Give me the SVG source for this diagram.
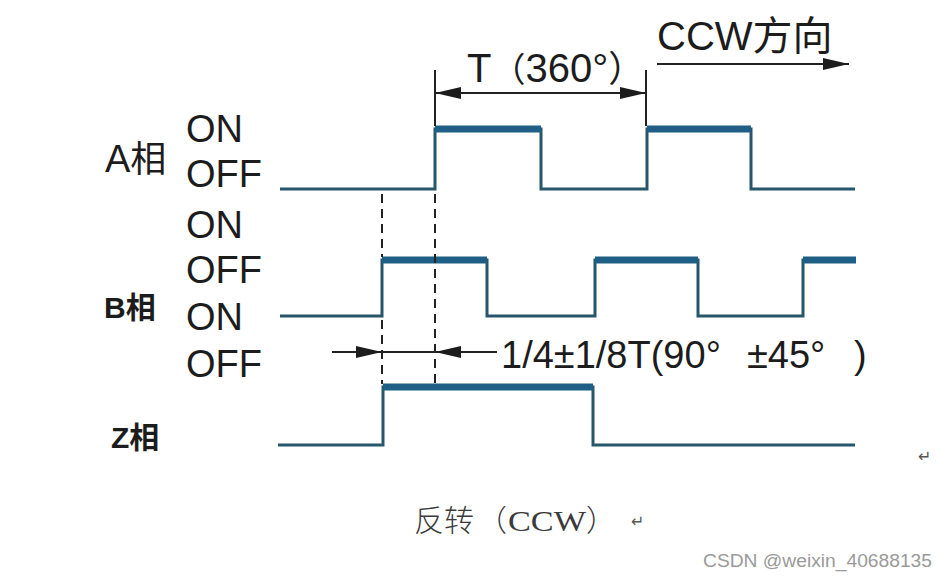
<svg xmlns="http://www.w3.org/2000/svg" width="949" height="580" viewBox="0 0 949 580">
<defs>
<style>
.lbl{font-family:"Liberation Sans","Noto Sans CJK SC",Arial,sans-serif;fill:#1c1c1c}
.cjk{font-family:"Noto Sans CJK SC","Liberation Sans",sans-serif;fill:#1c1c1c}
.wave{fill:none;stroke:#27566a;stroke-width:3;stroke-linejoin:miter}
.bar{stroke:#1f5f85;stroke-width:7;stroke-linecap:butt}
.dash{stroke:#222;stroke-width:2;stroke-dasharray:9,6;fill:none}
.dim{stroke:#222;stroke-width:2;fill:none}
</style>
<marker id="ah" markerUnits="userSpaceOnUse" markerWidth="26" markerHeight="14" refX="26" refY="7" orient="auto-start-reverse">
<path d="M0,1 L26,7 L0,13 Z" fill="#1c1c1c"/>
</marker>
</defs>
<rect width="949" height="580" fill="#ffffff"/>

<g id="labels">
<text class="lbl" x="105" y="172" font-size="38">A<tspan class="cjk" font-size="36">相</tspan></text>
<text class="lbl" x="104" y="318" font-size="30" font-weight="bold">B<tspan class="cjk" font-size="30" font-weight="bold">相</tspan></text>
<text class="lbl" x="111" y="448" font-size="30" font-weight="bold">Z<tspan class="cjk" font-size="30" font-weight="bold">相</tspan></text>
<text class="lbl" x="186" y="142" font-size="38">ON</text>
<text class="lbl" x="186" y="187" font-size="38">OFF</text>
<text class="lbl" x="186" y="238" font-size="38">ON</text>
<text class="lbl" x="186" y="283" font-size="38">OFF</text>
<text class="lbl" x="186" y="330" font-size="38">ON</text>
<text class="lbl" x="186" y="377" font-size="38">OFF</text>
</g>

<g id="phase-a">
<path class="wave" d="M280,189 H435 V129 H541 V189 H647 V129 H751 V189 H855"/>
<line class="bar" x1="435" y1="129" x2="541" y2="129"/>
<line class="bar" x1="647" y1="129" x2="751" y2="129"/>
</g>

<g id="phase-b">
<path class="wave" d="M280,316 H382 V260 H487 V316 H595 V260 H698 V316 H803 V260 H855"/>
<line class="bar" x1="382" y1="260" x2="487" y2="260"/>
<line class="bar" x1="595" y1="260" x2="698" y2="260"/>
<line class="bar" x1="803" y1="260" x2="856" y2="260"/>
</g>

<g id="phase-z">
<path class="wave" d="M278,445 H383 V387 H593 V445 H855"/>
<line class="bar" x1="383" y1="387" x2="593" y2="387"/>
</g>

<g id="connectors">
<line class="dash" x1="382" y1="194" x2="382" y2="257"/>
<line class="dash" x1="382" y1="320" x2="382" y2="384"/>
<line class="dash" x1="435" y1="194" x2="435" y2="384"/>
<line class="dim" x1="435" y1="70" x2="435" y2="126"/>
<line class="dim" x1="646" y1="70" x2="646" y2="126"/>
<line class="dim" x1="435" y1="93" x2="646" y2="93" marker-start="url(#ah)" marker-end="url(#ah)"/>
<line class="dim" x1="657" y1="64" x2="849" y2="64" marker-end="url(#ah)"/>
<line class="dim" x1="332" y1="352" x2="382" y2="352" marker-end="url(#ah)"/>
<line class="dim" x1="382" y1="352" x2="435" y2="352"/>
<line class="dim" x1="497" y1="352" x2="435" y2="352" marker-end="url(#ah)"/>
</g>

<g id="annotations">
<text class="lbl" x="467" y="82" font-size="40">T<tspan class="cjk" font-size="34">（</tspan><tspan>360°</tspan><tspan class="cjk" font-size="36">）</tspan></text>
<text class="lbl" x="657" y="50" font-size="40">CCW<tspan class="cjk" font-size="40">方向</tspan></text>
<text class="lbl" x="501" y="368" font-size="38">1/4±1/8T(90°</text>
<text class="lbl" x="747" y="368" font-size="38">±45°</text>
<text class="lbl" x="854" y="368" font-size="38">)</text>
</g>

<g id="caption" fill="#3a3a3a">
<text x="414" y="531" font-size="30" font-family="'Noto Sans CJK SC',sans-serif" font-weight="300" fill="#3a3a3a">反转</text>
<text x="477" y="531" font-size="30" font-family="'Noto Sans CJK SC',sans-serif" font-weight="300" fill="#3a3a3a">（</text>
<text x="508" y="531" font-size="30" font-family="'Liberation Serif',serif" textLength="78" lengthAdjust="spacingAndGlyphs" fill="#3a3a3a">CCW</text>
<text x="586" y="531" font-size="30" font-family="'Noto Sans CJK SC',sans-serif" font-weight="300" fill="#3a3a3a">）</text>
<text x="631" y="527" font-size="16" font-family="'DejaVu Sans',sans-serif" fill="#555">↵</text>
<text x="918" y="462" font-size="16" font-family="'DejaVu Sans',sans-serif" fill="#555">↵</text>
</g>

<text x="703" y="567" font-size="18" font-family="'Liberation Sans',Arial,sans-serif" fill="#9a9a9a" textLength="229" lengthAdjust="spacingAndGlyphs">CSDN @weixin_40688135</text>
</svg>
